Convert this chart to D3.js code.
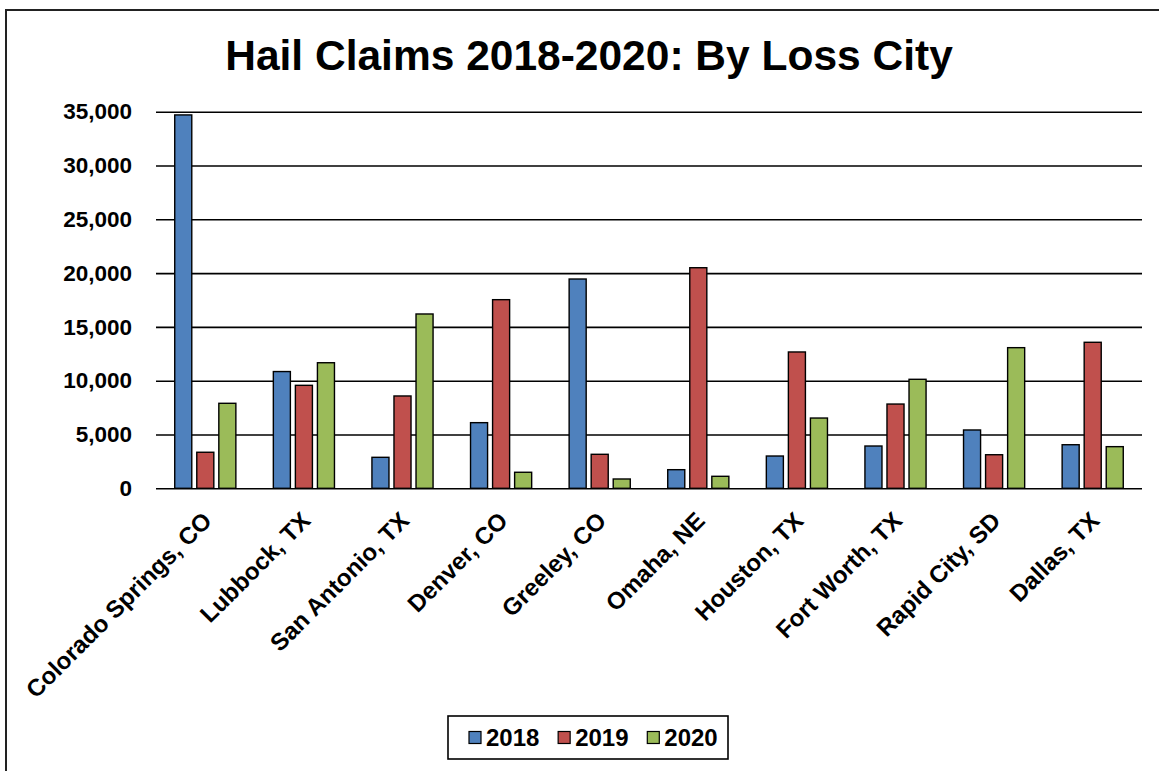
<!DOCTYPE html>
<html>
<head>
<meta charset="utf-8">
<script src="https://cdn.jsdelivr.net/npm/d3@7"></script>
<style>
  html, body { margin: 0; padding: 0; background: #fff; }
  svg { display: block; font-family: "Liberation Sans", Arial, sans-serif; }
</style>
</head>
<body>
<svg id="chart" width="1159" height="771"></svg>
<script>
const title = "Hail Claims 2018-2020: By Loss City";
const categories = ["Colorado Springs, CO", "Lubbock, TX", "San Antonio, TX", "Denver, CO", "Greeley, CO",
                    "Omaha, NE", "Houston, TX", "Fort Worth, TX", "Rapid City, SD", "Dallas, TX"];
const seriesNames = ["2018", "2019", "2020"];
const values2018 = [34700, 10850, 2880, 6100, 19450, 1730, 3000, 3930, 5420, 4050];
const values2019 = [3350, 9570, 8580, 17530, 3160, 20500, 12670, 7830, 3120, 13570];
const values2020 = [7900, 11670, 16200, 1490, 865, 1115, 6530, 10130, 13070, 3870];
const yTicks = [0, 5000, 10000, 15000, 20000, 25000, 30000, 35000];
const colors = ["#4F81BD", "#C0504D", "#9BBB59"];

const seriesValues = [values2018, values2019, values2020];
const svg = d3.select("#chart");

// chart border (extends past the window on the right and bottom)
svg.append("rect").attr("x", 6).attr("y", 10).attr("width", 1200).attr("height", 800)
  .attr("fill", "#fff").attr("stroke", "#222").attr("stroke-width", 2);

const plot = { left: 156, right: 1142, top: 111.7, bottom: 488.3 };

const x0 = d3.scaleBand().domain(categories).range([plot.left, plot.right]).paddingInner(0).paddingOuter(0);
const groupW = x0.bandwidth() * 0.62;
const x1 = d3.scaleBand().domain(seriesNames).range([0, groupW]).paddingInner(0.227).paddingOuter(0);
const y = d3.scaleLinear().domain([0, 35000]).range([plot.bottom, plot.top]);

// title
svg.append("text").attr("x", 589).attr("y", 70).attr("text-anchor", "middle")
  .attr("font-size", 42.5).attr("font-weight", "bold").attr("fill", "#000").text(title);

// y axis with gridlines
const yAxis = svg.append("g").attr("transform", `translate(${plot.left},0)`)
  .call(d3.axisLeft(y).tickValues(yTicks).tickFormat(d3.format(",")).tickSize(-(plot.right - plot.left)).tickPadding(24));
yAxis.select(".domain").remove();
yAxis.selectAll(".tick line").attr("stroke", "#000").attr("stroke-width", 1.6);
yAxis.selectAll(".tick text").attr("font-size", 22.5).attr("font-weight", "bold").attr("fill", "#000")
  .attr("font-family", "Liberation Sans, Arial, sans-serif");

// bars
const data = categories.map((c, i) => ({ cat: c, vals: seriesNames.map((s, j) => ({ s, j, v: seriesValues[j][i] })) }));
const groups = svg.append("g").selectAll("g").data(data).join("g")
  .attr("transform", d => `translate(${x0(d.cat) + (x0.bandwidth() - groupW) / 2},0)`);
groups.selectAll("rect").data(d => d.vals).join("rect")
  .attr("x", d => x1(d.s))
  .attr("width", x1.bandwidth())
  .attr("y", d => y(d.v))
  .attr("height", d => y(0) - y(d.v))
  .attr("fill", d => colors[d.j])
  .attr("stroke", "#000").attr("stroke-width", 1.4);

// x axis labels
const xAxis = svg.append("g").attr("transform", `translate(0,${plot.bottom})`)
  .call(d3.axisBottom(x0).tickSize(0).tickPadding(0));
xAxis.select(".domain").remove();
xAxis.selectAll(".tick text")
  .attr("font-size", 24).attr("font-weight", "bold").attr("fill", "#000")
  .attr("font-family", "Liberation Sans, Arial, sans-serif")
  .attr("text-anchor", "end")
  .attr("dy", 0)
  .attr("transform", "translate(8,34) rotate(-45)");

// legend
const legend = svg.append("g");
legend.append("rect").attr("x", 448).attr("y", 716).attr("width", 280).attr("height", 43)
  .attr("fill", "#fff").attr("stroke", "#000").attr("stroke-width", 1.6);
const legX = d3.scalePoint().domain(seriesNames).range([469, 647.3]);
const li = legend.selectAll("g.item").data(seriesNames).join("g").attr("class", "item")
  .attr("transform", d => `translate(${legX(d)},0)`);
li.append("rect").attr("x", 0).attr("y", 731.5).attr("width", 12).attr("height", 12)
  .attr("fill", (d, i) => colors[i]).attr("stroke", "#000").attr("stroke-width", 1.2);
li.append("text").attr("x", 17).attr("y", 745.5).attr("font-size", 24).attr("font-weight", "bold")
  .attr("fill", "#000").text(d => d);
</script>
</body>
</html>
